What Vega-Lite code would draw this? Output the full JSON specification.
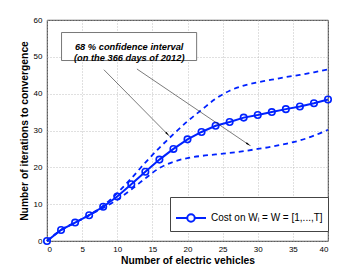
{
  "$schema": "https://vega.github.io/schema/vega-lite/v6.json",
  "width": 281,
  "height": 221,
  "autosize": "none",
  "padding": {"left": 47, "top": 20, "right": 34, "bottom": 31},
  "background": "white",
  "config": {
    "font": "Liberation Sans",
    "view": {"stroke": "black", "strokeWidth": 0.8},
    "axis": {
      "domain": false,
      "grid": true,
      "gridColor": "#b0b0b0",
      "gridDash": [1, 2],
      "gridWidth": 0.8,
      "tickColor": "transparent",
      "tickSize": 3,
      "tickWidth": 0.7,
      "labelOverlap": false,
      "labelFont": "Liberation Sans",
      "labelFontSize": 8,
      "labelColor": "black",
      "titleFont": "Liberation Sans",
      "titleFontSize": 10.3,
      "titleFontWeight": "bold",
      "titleColor": "black"
    },
    "axisX": {"labelPadding": 1, "titlePadding": 2},
    "axisY": {"labelPadding": 2, "titlePadding": 4}
  },
  "datasets": {
    "curves": [
      {"x": 0, "y": 0, "s": "mean"}, {"x": 2, "y": 3.0, "s": "mean"}, {"x": 4, "y": 5.0, "s": "mean"},
      {"x": 6, "y": 7.0, "s": "mean"}, {"x": 8, "y": 9.3, "s": "mean"}, {"x": 10, "y": 12.1, "s": "mean"},
      {"x": 12, "y": 15.4, "s": "mean"}, {"x": 14, "y": 18.8, "s": "mean"}, {"x": 16, "y": 22.1, "s": "mean"},
      {"x": 18, "y": 25.0, "s": "mean"}, {"x": 20, "y": 27.6, "s": "mean"}, {"x": 22, "y": 29.6, "s": "mean"},
      {"x": 24, "y": 31.3, "s": "mean"}, {"x": 26, "y": 32.3, "s": "mean"}, {"x": 28, "y": 33.5, "s": "mean"},
      {"x": 30, "y": 34.2, "s": "mean"}, {"x": 32, "y": 35.0, "s": "mean"}, {"x": 34, "y": 35.8, "s": "mean"},
      {"x": 36, "y": 36.5, "s": "mean"}, {"x": 38, "y": 37.4, "s": "mean"}, {"x": 40, "y": 38.4, "s": "mean"},
      {"x": 0, "y": 0, "s": "upper"}, {"x": 2, "y": 3.0, "s": "upper"}, {"x": 4, "y": 5.0, "s": "upper"},
      {"x": 6, "y": 7.0, "s": "upper"}, {"x": 8, "y": 9.6, "s": "upper"}, {"x": 10, "y": 13.0, "s": "upper"},
      {"x": 12, "y": 17.0, "s": "upper"}, {"x": 14, "y": 21.3, "s": "upper"}, {"x": 16, "y": 25.3, "s": "upper"},
      {"x": 18, "y": 29.0, "s": "upper"}, {"x": 20, "y": 32.5, "s": "upper"}, {"x": 22, "y": 35.6, "s": "upper"},
      {"x": 24, "y": 38.6, "s": "upper"}, {"x": 26, "y": 40.8, "s": "upper"}, {"x": 28, "y": 42.2, "s": "upper"},
      {"x": 30, "y": 43.1, "s": "upper"}, {"x": 32, "y": 43.8, "s": "upper"}, {"x": 34, "y": 44.5, "s": "upper"},
      {"x": 36, "y": 45.1, "s": "upper"}, {"x": 38, "y": 45.8, "s": "upper"}, {"x": 40, "y": 46.6, "s": "upper"},
      {"x": 0, "y": 0, "s": "lower"}, {"x": 2, "y": 3.0, "s": "lower"}, {"x": 4, "y": 5.0, "s": "lower"},
      {"x": 6, "y": 7.0, "s": "lower"}, {"x": 8, "y": 9.0, "s": "lower"}, {"x": 10, "y": 11.2, "s": "lower"},
      {"x": 12, "y": 14.0, "s": "lower"}, {"x": 14, "y": 17.0, "s": "lower"}, {"x": 16, "y": 19.8, "s": "lower"},
      {"x": 18, "y": 21.5, "s": "lower"}, {"x": 20, "y": 22.5, "s": "lower"}, {"x": 22, "y": 23.1, "s": "lower"},
      {"x": 24, "y": 23.5, "s": "lower"}, {"x": 26, "y": 23.9, "s": "lower"}, {"x": 28, "y": 24.4, "s": "lower"},
      {"x": 30, "y": 25.0, "s": "lower"}, {"x": 32, "y": 25.6, "s": "lower"}, {"x": 34, "y": 26.4, "s": "lower"},
      {"x": 36, "y": 27.3, "s": "lower"}, {"x": 38, "y": 28.6, "s": "lower"}, {"x": 40, "y": 30.2, "s": "lower"}
    ],
    "arrows": [
      {"x": 8.1, "y": 46.5, "x2": 17.1, "y2": 29.1, "a": 1},
      {"x": 12.8, "y": 46.7, "x2": 28.6, "y2": 26.3, "a": 2}
    ],
    "box": [
      {"x": 2.07, "x2": 21.3, "y": 56.6, "y2": 49.0, "xc": 11.7, "yc": 52.8,
       "label": ["68 % confidence interval", "(on the 366 days of 2012)"]}
    ]
  },
  "encoding": {
    "x": {"type": "quantitative", "scale": {"domain": [0, 40], "nice": false},
          "axis": {"values": [0, 5, 10, 15, 20, 25, 30, 35, 40], "tickCount": 9, "labelOverlap": false, "title": "Number of electric vehicles"}},
    "y": {"type": "quantitative", "scale": {"domain": [0, 60], "nice": false},
          "axis": {"values": [0, 10, 20, 30, 40, 50, 60], "tickCount": 7, "labelOverlap": false, "title": "Number of iterations to convergence"}}
  },
  "layer": [
    {
      "data": {"name": "curves"},
      "transform": [{"filter": "datum.s !== 'mean'"}],
      "mark": {"type": "line", "color": "#0022ff", "strokeWidth": 1.8, "strokeDash": [5, 4], "interpolate": "monotone"},
      "encoding": {
        "x": {"field": "x", "type": "quantitative"},
        "y": {"field": "y", "type": "quantitative"},
        "detail": {"field": "s"}
      }
    },
    {
      "data": {"name": "curves"},
      "transform": [{"filter": "datum.s === 'mean'"}],
      "mark": {"type": "line", "strokeWidth": 2},
      "encoding": {
        "x": {"field": "x", "type": "quantitative"},
        "y": {"field": "y", "type": "quantitative"},
        "color": {
          "datum": "Cost on Wᵢ = W = [1,...,T]",
          "type": "nominal",
          "scale": {"range": ["#0022ff"]},
          "legend": {
            "title": null,
            "orient": "none",
            "legendX": 123,
            "legendY": 177,
            "fillColor": "white",
            "strokeColor": "#444",
            "padding": 5,
            "labelFontSize": 10,
            "labelFont": "Liberation Sans",
            "labelColor": "black",
            "labelLimit": 0,
            "symbolType": "M-1,0H-0.25M0.25,0H1M0.25,0A0.25,0.25 0 1,1 -0.25,0A0.25,0.25 0 1,1 0.25,0",
            "symbolSize": 900,
            "symbolStrokeWidth": 2,
            "symbolFillColor": "transparent"
          }
        }
      }
    },
    {
      "data": {"name": "curves"},
      "transform": [{"filter": "datum.s === 'mean'"}],
      "mark": {"type": "point", "shape": "circle", "filled": false, "color": "#0022ff", "strokeWidth": 1.6, "size": 42, "opacity": 1},
      "encoding": {
        "x": {"field": "x", "type": "quantitative"},
        "y": {"field": "y", "type": "quantitative"}
      }
    },
    {
      "data": {"name": "box"},
      "mark": {"type": "rect", "fill": "white", "stroke": "#555", "strokeWidth": 0.8},
      "encoding": {
        "x": {"field": "x", "type": "quantitative"},
        "x2": {"field": "x2"},
        "y": {"field": "y", "type": "quantitative"},
        "y2": {"field": "y2"}
      }
    },
    {
      "data": {"name": "box"},
      "mark": {"type": "text", "font": "Liberation Sans", "fontSize": 9.3, "fontWeight": "bold", "fontStyle": "italic", "lineHeight": 11.5, "align": "center", "baseline": "middle", "color": "black"},
      "encoding": {
        "x": {"field": "xc", "type": "quantitative"},
        "y": {"field": "yc", "type": "quantitative"},
        "text": {"field": "label"}
      }
    },
    {
      "data": {"name": "arrows"},
      "mark": {"type": "rule", "color": "#222", "strokeWidth": 0.6},
      "encoding": {
        "x": {"field": "x", "type": "quantitative"},
        "y": {"field": "y", "type": "quantitative"},
        "x2": {"field": "x2"},
        "y2": {"field": "y2"}
      }
    },
    {
      "data": {"name": "arrows"},
      "transform": [{"filter": "datum.a === 1"}],
      "mark": {"type": "point", "shape": "wedge", "filled": true, "color": "black", "size": 45, "angle": 135, "opacity": 1},
      "encoding": {
        "x": {"field": "x2", "type": "quantitative"},
        "y": {"field": "y2", "type": "quantitative"}
      }
    },
    {
      "data": {"name": "arrows"},
      "transform": [{"filter": "datum.a === 2"}],
      "mark": {"type": "point", "shape": "wedge", "filled": true, "color": "black", "size": 45, "angle": 124, "opacity": 1},
      "encoding": {
        "x": {"field": "x2", "type": "quantitative"},
        "y": {"field": "y2", "type": "quantitative"}
      }
    }
  ]
}
